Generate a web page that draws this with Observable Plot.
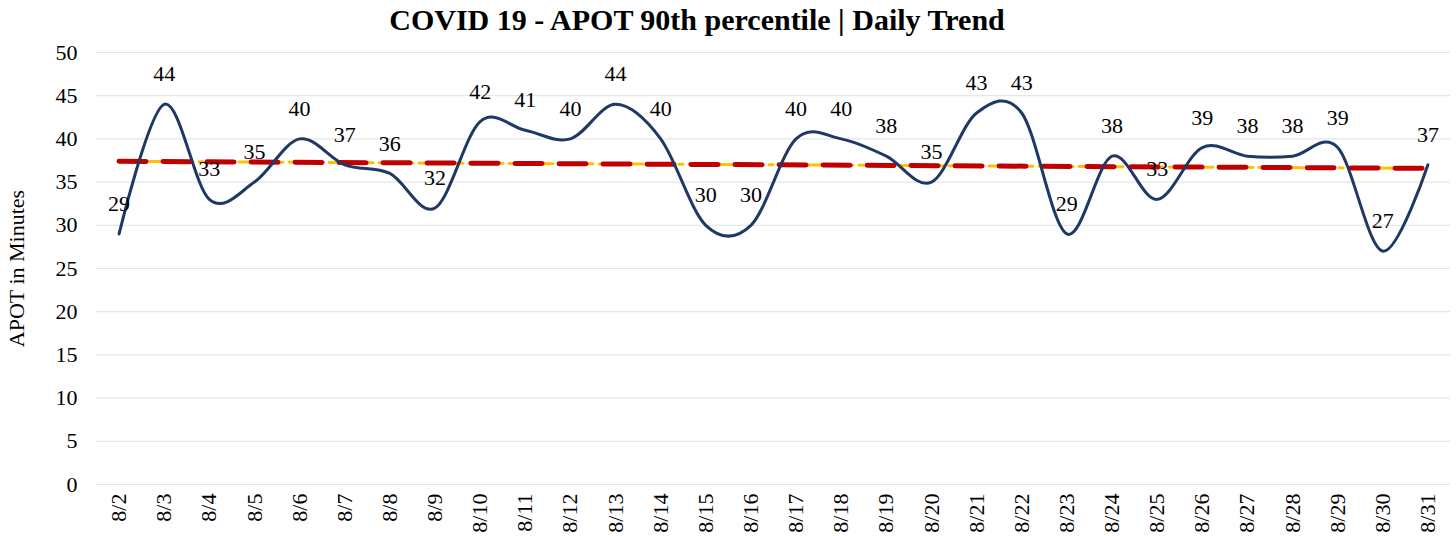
<!DOCTYPE html>
<html><head><meta charset="utf-8">
<script src="https://cdn.jsdelivr.net/npm/d3@7"></script>
<script src="https://cdn.jsdelivr.net/npm/@observablehq/plot@0.6"></script>
<style>
body{margin:0;background:#fff;font-family:"Liberation Serif",serif;width:1456px;height:536px;overflow:hidden;position:relative}
#title{position:absolute;left:0;top:2px;width:1394px;text-align:center;font-weight:bold;font-size:30px;line-height:36px;color:#000}
#chart{position:absolute;left:0;top:40px}
#chart svg text{font-family:"Liberation Serif",serif}
</style></head><body>
<div id="title">COVID 19 - APOT 90th percentile | Daily Trend</div>
<div id="chart"></div>
<script>
const dates = ["8/2","8/3","8/4","8/5","8/6","8/7","8/8","8/9","8/10","8/11","8/12","8/13","8/14","8/15","8/16","8/17","8/18","8/19","8/20","8/21","8/22","8/23","8/24","8/25","8/26","8/27","8/28","8/29","8/30","8/31"];
const apot = [29,44,33,35,40,37,36,32,42,41,40,44,40,30,30,40,40,38,35,43,43,29,38,33,39,38,38,39,27,37];
const yTicks = [0,5,10,15,20,25,30,35,40,45,50];

const data = dates.map((d, i) => ({i, date: d, v: apot[i]}));
const idx = d3.range(dates.length);
const serif = "Liberation Serif";

const plot = Plot.plot({
  width: 1456, height: 496,
  marginLeft: 96, marginRight: 6, marginTop: 12, marginBottom: 52,
  style: {fontFamily: serif, fontSize: "22px", color: "#000", background: "#fff"},
  x: {domain: [-0.5, dates.length - 0.5]},
  y: {domain: [0, 50]},
  marks: [
    Plot.gridY(yTicks, {stroke: "#e6e6e6", strokeOpacity: 1, strokeWidth: 1.2}),
    Plot.axisY({ticks: yTicks, tickSize: 0, tickPadding: 19, label: "APOT in Minutes", labelAnchor: "center", labelArrow: "none", labelOffset: 88, fontSize: 22, fontFamily: serif}),
    Plot.axisX({ticks: idx, tickFormat: i => dates[i], tickRotate: -90, tickSize: 0, tickPadding: 9, label: null, fontSize: 22, fontFamily: serif}),
    Plot.linearRegressionY(data, {x: "i", y: "v", stroke: "#ffc000", strokeWidth: 3, strokeDasharray: "14,6,4,6", ci: 0}),
    Plot.linearRegressionY(data, {x: "i", y: "v", stroke: "#c00000", strokeWidth: 5, strokeDasharray: "27,17", strokeLinecap: "round", ci: 0}),
    Plot.line(data, {x: "i", y: "v", curve: "cardinal", tension: 0, stroke: "#203864", strokeWidth: 3}),
    Plot.text(data, {x: "i", y: "v", text: d => String(d.v), dy: -30, fontSize: 22, fontFamily: serif})
  ]
});
document.getElementById("chart").appendChild(plot);
</script>
</body></html>
